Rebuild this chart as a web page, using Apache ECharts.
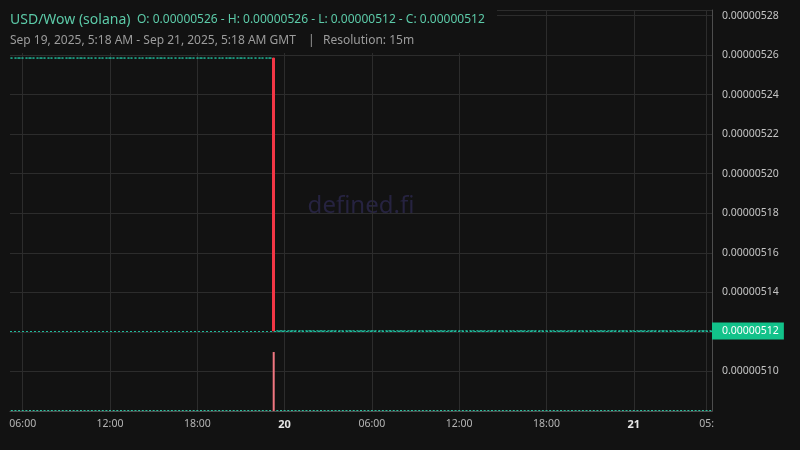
<!DOCTYPE html>
<html><head><meta charset="utf-8">
<script src="https://cdn.jsdelivr.net/npm/echarts@6/dist/echarts.min.js"></script>
<style>html,body{margin:0;padding:0;background:#121212}#c{width:800px;height:450px}</style>
</head><body><div id="c"></div>
<script>
// 15m candles, Sep 19 05:15 GMT -> Sep 21 05:15 GMT
// (header rounds to 8 decimals: 0.0000052585 -> 0.00000526, 0.0000051205 -> 0.00000512)
const opens = [
5.2585e-6,5.2585e-6,5.2585e-6,5.2585e-6,5.2585e-6,5.2585e-6,5.2585e-6,5.2585e-6,5.2585e-6,5.2585e-6,5.2585e-6,5.2585e-6,
5.2585e-6,5.2585e-6,5.2585e-6,5.2585e-6,5.2585e-6,5.2585e-6,5.2585e-6,5.2585e-6,5.2585e-6,5.2585e-6,5.2585e-6,5.2585e-6,
5.2585e-6,5.2585e-6,5.2585e-6,5.2585e-6,5.2585e-6,5.2585e-6,5.2585e-6,5.2585e-6,5.2585e-6,5.2585e-6,5.2585e-6,5.2585e-6,
5.2585e-6,5.2585e-6,5.2585e-6,5.2585e-6,5.2585e-6,5.2585e-6,5.2585e-6,5.2585e-6,5.2585e-6,5.2585e-6,5.2585e-6,5.2585e-6,
5.2585e-6,5.2585e-6,5.2585e-6,5.2585e-6,5.2585e-6,5.2585e-6,5.2585e-6,5.2585e-6,5.2585e-6,5.2585e-6,5.2585e-6,5.2585e-6,
5.2585e-6,5.2585e-6,5.2585e-6,5.2585e-6,5.2585e-6,5.2585e-6,5.2585e-6,5.2585e-6,5.2585e-6,5.2585e-6,5.2585e-6,5.2585e-6,
5.2585e-6,
5.1205e-6,5.1205e-6,5.1205e-6,5.1205e-6,5.1205e-6,5.1205e-6,5.1205e-6,5.1205e-6,5.1205e-6,5.1205e-6,5.1205e-6,5.1205e-6,
5.1205e-6,5.1205e-6,5.1205e-6,5.1205e-6,5.1205e-6,5.1205e-6,5.1205e-6,5.1205e-6,5.1205e-6,5.1205e-6,5.1205e-6,5.1205e-6,
5.1205e-6,5.1205e-6,5.1205e-6,5.1205e-6,5.1205e-6,5.1205e-6,5.1205e-6,5.1205e-6,5.1205e-6,5.1205e-6,5.1205e-6,5.1205e-6,
5.1205e-6,5.1205e-6,5.1205e-6,5.1205e-6,5.1205e-6,5.1205e-6,5.1205e-6,5.1205e-6,5.1205e-6,5.1205e-6,5.1205e-6,5.1205e-6,
5.1205e-6,5.1205e-6,5.1205e-6,5.1205e-6,5.1205e-6,5.1205e-6,5.1205e-6,5.1205e-6,5.1205e-6,5.1205e-6,5.1205e-6,5.1205e-6,
5.1205e-6,5.1205e-6,5.1205e-6,5.1205e-6,5.1205e-6,5.1205e-6,5.1205e-6,5.1205e-6,5.1205e-6,5.1205e-6,5.1205e-6,5.1205e-6,
5.1205e-6,5.1205e-6,5.1205e-6,5.1205e-6,5.1205e-6,5.1205e-6,5.1205e-6,5.1205e-6,5.1205e-6,5.1205e-6,5.1205e-6,5.1205e-6,
5.1205e-6,5.1205e-6,5.1205e-6,5.1205e-6,5.1205e-6,5.1205e-6,5.1205e-6,5.1205e-6,5.1205e-6,5.1205e-6,5.1205e-6,5.1205e-6,
5.1205e-6,5.1205e-6,5.1205e-6,5.1205e-6,5.1205e-6,5.1205e-6,5.1205e-6,5.1205e-6,5.1205e-6,5.1205e-6,5.1205e-6,5.1205e-6,
5.1205e-6,5.1205e-6,5.1205e-6,5.1205e-6,5.1205e-6,5.1205e-6,5.1205e-6,5.1205e-6,5.1205e-6,5.1205e-6,5.1205e-6,5.1205e-6
];
const highs = [
5.2585e-6,5.2585e-6,5.2585e-6,5.2585e-6,5.2585e-6,5.2585e-6,5.2585e-6,5.2585e-6,5.2585e-6,5.2585e-6,5.2585e-6,5.2585e-6,
5.2585e-6,5.2585e-6,5.2585e-6,5.2585e-6,5.2585e-6,5.2585e-6,5.2585e-6,5.2585e-6,5.2585e-6,5.2585e-6,5.2585e-6,5.2585e-6,
5.2585e-6,5.2585e-6,5.2585e-6,5.2585e-6,5.2585e-6,5.2585e-6,5.2585e-6,5.2585e-6,5.2585e-6,5.2585e-6,5.2585e-6,5.2585e-6,
5.2585e-6,5.2585e-6,5.2585e-6,5.2585e-6,5.2585e-6,5.2585e-6,5.2585e-6,5.2585e-6,5.2585e-6,5.2585e-6,5.2585e-6,5.2585e-6,
5.2585e-6,5.2585e-6,5.2585e-6,5.2585e-6,5.2585e-6,5.2585e-6,5.2585e-6,5.2585e-6,5.2585e-6,5.2585e-6,5.2585e-6,5.2585e-6,
5.2585e-6,5.2585e-6,5.2585e-6,5.2585e-6,5.2585e-6,5.2585e-6,5.2585e-6,5.2585e-6,5.2585e-6,5.2585e-6,5.2585e-6,5.2585e-6,
5.2585e-6,
5.1205e-6,5.1205e-6,5.1205e-6,5.1205e-6,5.1205e-6,5.1205e-6,5.1205e-6,5.1205e-6,5.1205e-6,5.1205e-6,5.1205e-6,5.1205e-6,
5.1205e-6,5.1205e-6,5.1205e-6,5.1205e-6,5.1205e-6,5.1205e-6,5.1205e-6,5.1205e-6,5.1205e-6,5.1205e-6,5.1205e-6,5.1205e-6,
5.1205e-6,5.1205e-6,5.1205e-6,5.1205e-6,5.1205e-6,5.1205e-6,5.1205e-6,5.1205e-6,5.1205e-6,5.1205e-6,5.1205e-6,5.1205e-6,
5.1205e-6,5.1205e-6,5.1205e-6,5.1205e-6,5.1205e-6,5.1205e-6,5.1205e-6,5.1205e-6,5.1205e-6,5.1205e-6,5.1205e-6,5.1205e-6,
5.1205e-6,5.1205e-6,5.1205e-6,5.1205e-6,5.1205e-6,5.1205e-6,5.1205e-6,5.1205e-6,5.1205e-6,5.1205e-6,5.1205e-6,5.1205e-6,
5.1205e-6,5.1205e-6,5.1205e-6,5.1205e-6,5.1205e-6,5.1205e-6,5.1205e-6,5.1205e-6,5.1205e-6,5.1205e-6,5.1205e-6,5.1205e-6,
5.1205e-6,5.1205e-6,5.1205e-6,5.1205e-6,5.1205e-6,5.1205e-6,5.1205e-6,5.1205e-6,5.1205e-6,5.1205e-6,5.1205e-6,5.1205e-6,
5.1205e-6,5.1205e-6,5.1205e-6,5.1205e-6,5.1205e-6,5.1205e-6,5.1205e-6,5.1205e-6,5.1205e-6,5.1205e-6,5.1205e-6,5.1205e-6,
5.1205e-6,5.1205e-6,5.1205e-6,5.1205e-6,5.1205e-6,5.1205e-6,5.1205e-6,5.1205e-6,5.1205e-6,5.1205e-6,5.1205e-6,5.1205e-6,
5.1205e-6,5.1205e-6,5.1205e-6,5.1205e-6,5.1205e-6,5.1205e-6,5.1205e-6,5.1205e-6,5.1205e-6,5.1205e-6,5.1205e-6,5.1205e-6
];
const lows = [
5.2585e-6,5.2585e-6,5.2585e-6,5.2585e-6,5.2585e-6,5.2585e-6,5.2585e-6,5.2585e-6,5.2585e-6,5.2585e-6,5.2585e-6,5.2585e-6,
5.2585e-6,5.2585e-6,5.2585e-6,5.2585e-6,5.2585e-6,5.2585e-6,5.2585e-6,5.2585e-6,5.2585e-6,5.2585e-6,5.2585e-6,5.2585e-6,
5.2585e-6,5.2585e-6,5.2585e-6,5.2585e-6,5.2585e-6,5.2585e-6,5.2585e-6,5.2585e-6,5.2585e-6,5.2585e-6,5.2585e-6,5.2585e-6,
5.2585e-6,5.2585e-6,5.2585e-6,5.2585e-6,5.2585e-6,5.2585e-6,5.2585e-6,5.2585e-6,5.2585e-6,5.2585e-6,5.2585e-6,5.2585e-6,
5.2585e-6,5.2585e-6,5.2585e-6,5.2585e-6,5.2585e-6,5.2585e-6,5.2585e-6,5.2585e-6,5.2585e-6,5.2585e-6,5.2585e-6,5.2585e-6,
5.2585e-6,5.2585e-6,5.2585e-6,5.2585e-6,5.2585e-6,5.2585e-6,5.2585e-6,5.2585e-6,5.2585e-6,5.2585e-6,5.2585e-6,5.2585e-6,
5.1205e-6,
5.1205e-6,5.1205e-6,5.1205e-6,5.1205e-6,5.1205e-6,5.1205e-6,5.1205e-6,5.1205e-6,5.1205e-6,5.1205e-6,5.1205e-6,5.1205e-6,
5.1205e-6,5.1205e-6,5.1205e-6,5.1205e-6,5.1205e-6,5.1205e-6,5.1205e-6,5.1205e-6,5.1205e-6,5.1205e-6,5.1205e-6,5.1205e-6,
5.1205e-6,5.1205e-6,5.1205e-6,5.1205e-6,5.1205e-6,5.1205e-6,5.1205e-6,5.1205e-6,5.1205e-6,5.1205e-6,5.1205e-6,5.1205e-6,
5.1205e-6,5.1205e-6,5.1205e-6,5.1205e-6,5.1205e-6,5.1205e-6,5.1205e-6,5.1205e-6,5.1205e-6,5.1205e-6,5.1205e-6,5.1205e-6,
5.1205e-6,5.1205e-6,5.1205e-6,5.1205e-6,5.1205e-6,5.1205e-6,5.1205e-6,5.1205e-6,5.1205e-6,5.1205e-6,5.1205e-6,5.1205e-6,
5.1205e-6,5.1205e-6,5.1205e-6,5.1205e-6,5.1205e-6,5.1205e-6,5.1205e-6,5.1205e-6,5.1205e-6,5.1205e-6,5.1205e-6,5.1205e-6,
5.1205e-6,5.1205e-6,5.1205e-6,5.1205e-6,5.1205e-6,5.1205e-6,5.1205e-6,5.1205e-6,5.1205e-6,5.1205e-6,5.1205e-6,5.1205e-6,
5.1205e-6,5.1205e-6,5.1205e-6,5.1205e-6,5.1205e-6,5.1205e-6,5.1205e-6,5.1205e-6,5.1205e-6,5.1205e-6,5.1205e-6,5.1205e-6,
5.1205e-6,5.1205e-6,5.1205e-6,5.1205e-6,5.1205e-6,5.1205e-6,5.1205e-6,5.1205e-6,5.1205e-6,5.1205e-6,5.1205e-6,5.1205e-6,
5.1205e-6,5.1205e-6,5.1205e-6,5.1205e-6,5.1205e-6,5.1205e-6,5.1205e-6,5.1205e-6,5.1205e-6,5.1205e-6,5.1205e-6,5.1205e-6
];
const closes = [
5.2585e-6,5.2585e-6,5.2585e-6,5.2585e-6,5.2585e-6,5.2585e-6,5.2585e-6,5.2585e-6,5.2585e-6,5.2585e-6,5.2585e-6,5.2585e-6,
5.2585e-6,5.2585e-6,5.2585e-6,5.2585e-6,5.2585e-6,5.2585e-6,5.2585e-6,5.2585e-6,5.2585e-6,5.2585e-6,5.2585e-6,5.2585e-6,
5.2585e-6,5.2585e-6,5.2585e-6,5.2585e-6,5.2585e-6,5.2585e-6,5.2585e-6,5.2585e-6,5.2585e-6,5.2585e-6,5.2585e-6,5.2585e-6,
5.2585e-6,5.2585e-6,5.2585e-6,5.2585e-6,5.2585e-6,5.2585e-6,5.2585e-6,5.2585e-6,5.2585e-6,5.2585e-6,5.2585e-6,5.2585e-6,
5.2585e-6,5.2585e-6,5.2585e-6,5.2585e-6,5.2585e-6,5.2585e-6,5.2585e-6,5.2585e-6,5.2585e-6,5.2585e-6,5.2585e-6,5.2585e-6,
5.2585e-6,5.2585e-6,5.2585e-6,5.2585e-6,5.2585e-6,5.2585e-6,5.2585e-6,5.2585e-6,5.2585e-6,5.2585e-6,5.2585e-6,5.2585e-6,
5.1205e-6,
5.1205e-6,5.1205e-6,5.1205e-6,5.1205e-6,5.1205e-6,5.1205e-6,5.1205e-6,5.1205e-6,5.1205e-6,5.1205e-6,5.1205e-6,5.1205e-6,
5.1205e-6,5.1205e-6,5.1205e-6,5.1205e-6,5.1205e-6,5.1205e-6,5.1205e-6,5.1205e-6,5.1205e-6,5.1205e-6,5.1205e-6,5.1205e-6,
5.1205e-6,5.1205e-6,5.1205e-6,5.1205e-6,5.1205e-6,5.1205e-6,5.1205e-6,5.1205e-6,5.1205e-6,5.1205e-6,5.1205e-6,5.1205e-6,
5.1205e-6,5.1205e-6,5.1205e-6,5.1205e-6,5.1205e-6,5.1205e-6,5.1205e-6,5.1205e-6,5.1205e-6,5.1205e-6,5.1205e-6,5.1205e-6,
5.1205e-6,5.1205e-6,5.1205e-6,5.1205e-6,5.1205e-6,5.1205e-6,5.1205e-6,5.1205e-6,5.1205e-6,5.1205e-6,5.1205e-6,5.1205e-6,
5.1205e-6,5.1205e-6,5.1205e-6,5.1205e-6,5.1205e-6,5.1205e-6,5.1205e-6,5.1205e-6,5.1205e-6,5.1205e-6,5.1205e-6,5.1205e-6,
5.1205e-6,5.1205e-6,5.1205e-6,5.1205e-6,5.1205e-6,5.1205e-6,5.1205e-6,5.1205e-6,5.1205e-6,5.1205e-6,5.1205e-6,5.1205e-6,
5.1205e-6,5.1205e-6,5.1205e-6,5.1205e-6,5.1205e-6,5.1205e-6,5.1205e-6,5.1205e-6,5.1205e-6,5.1205e-6,5.1205e-6,5.1205e-6,
5.1205e-6,5.1205e-6,5.1205e-6,5.1205e-6,5.1205e-6,5.1205e-6,5.1205e-6,5.1205e-6,5.1205e-6,5.1205e-6,5.1205e-6,5.1205e-6,
5.1205e-6,5.1205e-6,5.1205e-6,5.1205e-6,5.1205e-6,5.1205e-6,5.1205e-6,5.1205e-6,5.1205e-6,5.1205e-6,5.1205e-6,5.1205e-6
];
const volumes = [
0,0,0,0,0,0,0,0,0,0,0,0, 0,0,0,0,0,0,0,0,0,0,0,0, 0,0,0,0,0,0,0,0,0,0,0,0,
0,0,0,0,0,0,0,0,0,0,0,0, 0,0,0,0,0,0,0,0,0,0,0,0, 0,0,0,0,0,0,0,0,0,0,0,0,
1,
0,0,0,0,0,0,0,0,0,0,0,0, 0,0,0,0,0,0,0,0,0,0,0,0, 0,0,0,0,0,0,0,0,0,0,0,0,
0,0,0,0,0,0,0,0,0,0,0,0, 0,0,0,0,0,0,0,0,0,0,0,0, 0,0,0,0,0,0,0,0,0,0,0,0,
0,0,0,0,0,0,0,0,0,0,0,0, 0,0,0,0,0,0,0,0,0,0,0,0, 0,0,0,0,0,0,0,0,0,0,0,0,
0,0,0,0,0,0,0,0,0,0,0,0
];
// time categories: 15m resolution grid starting Sep 19 2025 05:15 GMT
const startTime = Date.UTC(2025, 8, 19, 5, 15);
const categories = [];
function pad(n){return (n<10?'0':'')+n;}
for (let i = 0; i < closes.length; i++) {
  const d = new Date(startTime + i * 15 * 60000);
  categories.push(d.getUTCFullYear()+'-'+pad(d.getUTCMonth()+1)+'-'+pad(d.getUTCDate())+' '+pad(d.getUTCHours())+':'+pad(d.getUTCMinutes()));
}
const xTickCats  = ['2025-09-19 06:00','2025-09-19 12:00','2025-09-19 18:00','2025-09-20 00:00','2025-09-20 06:00','2025-09-20 12:00','2025-09-20 18:00','2025-09-21 00:00','2025-09-21 05:00'];
const xTickTexts = ['06:00','12:00','18:00','20','06:00','12:00','18:00','21','05:'];
const dayTickTexts = ['20','21'];

const UP = '#1fb89a', DOWN = '#f23645', VOL_UP = '#2fc4a2', VOL_DOWN = '#f07680';
const FONT = '"Noto Sans", "Open Sans", sans-serif';

const candleData = categories.map((c, i) => [opens[i], closes[i], lows[i], highs[i]]);
const volData = volumes.map((v, i) => ({ value: v, itemStyle: { color: closes[i] < opens[i] ? VOL_DOWN : VOL_UP } }));
const lastClose = closes[closes.length - 1];
const fmt = v => Number(v).toFixed(8);
const ohlcText = 'O: ' + fmt(opens[0]) + ' - H: ' + fmt(Math.max(...highs)) + ' - L: ' + fmt(Math.min(...lows)) + ' - C: ' + fmt(lastClose);

const chart = echarts.init(document.getElementById('c'), null, { renderer: 'canvas' });
chart.setOption({
  backgroundColor: '#121212',
  animation: false,
  textStyle: { fontFamily: FONT },
  grid: { left: 10, right: 88, top: 10, bottom: 39, containLabel: false },
  xAxis: {
    type: 'category', data: categories, boundaryGap: true,
    axisLine: { show: true, lineStyle: { color: '#4d4d4d' } },
    axisTick: { show: false },
    axisLabel: {
      interval: (i, v) => xTickCats.indexOf(v) >= 0,
      formatter: v => { const t = xTickTexts[xTickCats.indexOf(v)]; return dayTickTexts.indexOf(t) >= 0 ? '{d|' + t + '}' : t; },
      color: '#b5b5b5', fontSize: 10.5, margin: 8, fontFamily: FONT,
      rich: { d: { fontWeight: 'bold', color: '#e6e6e6', fontSize: 11, fontFamily: FONT } }
    },
    splitLine: { show: true, interval: (i, v) => xTickCats.indexOf(v) >= 0, alignWithLabel: true, lineStyle: { color: '#2c2c2c', width: 1 } }
  },
  yAxis: [{
    type: 'value', position: 'right', min: 5.08e-6, max: 5.2828e-6, interval: 2e-8, scale: true,
    axisLine: { show: true, lineStyle: { color: '#4d4d4d' } },
    axisTick: { show: false },
    axisLabel: {
      color: '#c4c4c4', fontSize: 10.5, margin: 10, fontFamily: FONT,
      formatter: v => { const n = v * 1e8, r = Math.round(n); return (Math.abs(n - r) < 1e-3 && r % 2 === 0 && r >= 510 && r <= 528) ? fmt(v) : ''; }
    },
    splitLine: { show: true, lineStyle: { color: '#2c2c2c', width: 1 } }
  }, {
    type: 'value', show: false, min: 0, max: v => v.max * 6.8,
    splitLine: { show: false }
  }],
  graphic: [
    { type: 'text', x: 361, y: 206, z: -10, silent: true,
      style: { text: 'defined.fi', fill: '#262340', font: '24px ' + FONT, align: 'center', verticalAlign: 'middle' } },
    { type: 'rect', x: 0, y: 0, z: 100, silent: true, shape: { width: 497, height: 53 }, style: { fill: '#121212' } },
    { type: 'text', x: 10, y: 20, z: 101, style: { text: 'USD/Wow (solana)', fill: '#5ccaa8', font: '14px ' + FONT, verticalAlign: 'middle' } },
    { type: 'text', x: 137, y: 20, z: 101, style: { text: ohlcText, fill: '#5ccaa8', font: '12px ' + FONT, verticalAlign: 'middle' } },
    { type: 'text', x: 10, y: 41, z: 101, style: { text: 'Sep 19, 2025, 5:18 AM - Sep 21, 2025, 5:18 AM GMT', fill: '#9c9c9c', font: '12px ' + FONT, verticalAlign: 'middle' } },
    { type: 'text', x: 308, y: 41, z: 101, style: { text: '|', fill: '#9c9c9c', font: '12px ' + FONT, verticalAlign: 'middle' } },
    { type: 'text', x: 323, y: 41, z: 101, style: { text: 'Resolution: 15m', fill: '#9c9c9c', font: '12px ' + FONT, verticalAlign: 'middle' } }
  ],
  series: [{
    type: 'bar', name: 'Volume', xAxisIndex: 0, yAxisIndex: 1, data: volData,
    barWidth: '55%', barMinHeight: 1, silent: true, z: 1
  }, {
    type: 'candlestick', name: 'USD/Wow', xAxisIndex: 0, yAxisIndex: 0, data: candleData,
    barWidth: '75%', silent: true, z: 3, clip: false,
    itemStyle: { color: UP, color0: DOWN, borderColor: UP, borderColor0: DOWN, borderColorDoji: UP, borderWidth: 1 },
    markLine: {
      symbol: 'none', silent: true, animation: false, precision: 12, z: 10,
      data: [{ yAxis: lastClose }],
      lineStyle: { color: UP, type: [2, 2], width: 1 },
      label: { show: true, position: 'end', distance: 0, formatter: () => fmt(lastClose),
        backgroundColor: '#12c28a', color: '#ffffff', padding: [3, 5, 3, 10], fontSize: 10.5, fontFamily: FONT }
    }
  }]
});
</script>
</body></html>
